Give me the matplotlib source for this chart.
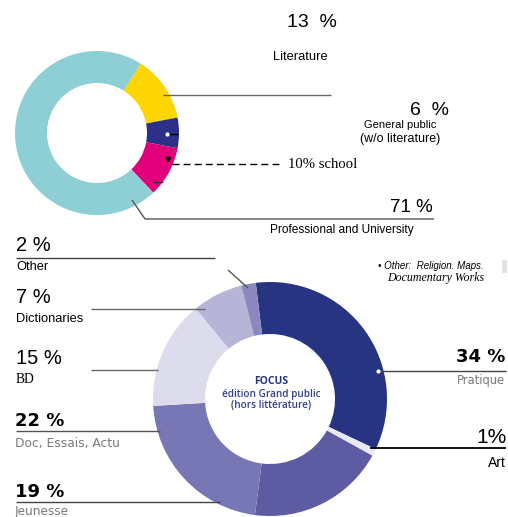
import matplotlib

matplotlib.use("Agg")
import matplotlib.pyplot as plt

W, H = 508, 517

# Market split (top ring), clockwise from the yellow slice.
top_labels = ["Literature", "General public (w/o literature)", "School",
              "Professional and University"]
top_values = [13, 6, 10, 71]
top_colors = ["#fdd500", "#2c3086", "#e2007a", "#8ecfd6"]

# General public publishing without literature (bottom ring), clockwise from top.
focus_labels = ["Pratique", "Art", "Jeunesse", "Doc, Essais, Actu", "BD",
                "Dictionaries", "Other"]
focus_values = [34, 1, 19, 22, 15, 7, 2]
focus_colors = ["#273482", "#e9e8f3", "#5d5ca3", "#7877b5", "#dddced",
                "#b6b5d7", "#8a88be"]

SANS = "Liberation Sans"
SERIF = "Liberation Serif"
ROUND = "DejaVu Sans"
GREY = "#7a7a7a"
NAVY = "#273482"


def Y(py):
    """Flip a top-down pixel row into data coordinates."""
    return H - py


fig = plt.figure(figsize=(W / 100, H / 100), dpi=100)
ax = fig.add_axes([0, 0, 1, 1])

# --- top ring ---
ax.pie(top_values, colors=top_colors, radius=82, center=(97, Y(133)),
       startangle=57.7, counterclock=False, frame=True,
       wedgeprops=dict(width=32, linewidth=0))

# --- bottom ring ---
ax.pie(focus_values, colors=focus_colors, radius=117, center=(270, Y(399)),
       startangle=97, counterclock=False, frame=True,
       wedgeprops=dict(width=52, linewidth=0))

ax.set_xlim(0, W)
ax.set_ylim(0, H)
ax.set_aspect("auto")
ax.axis("off")


def line(xs, ys, color="#555555", lw=1.0, **kw):
    ax.plot(xs, [Y(v) for v in ys], color=color, lw=lw,
            solid_capstyle="butt", **kw)


def txt(x, y, s, size, ha="left", family=SANS, **kw):
    ax.text(x, Y(y), s, fontsize=size, ha=ha, va="baseline",
            family=family, **kw)


# top ring annotations
txt(312, 27, f"{top_values[0]}  %", 14, ha="center")
txt(300, 60, "Literature", 9.3, ha="center")
line([163, 331], [95, 95], color="#666666")

txt(449, 115, f"{top_values[1]}  %", 14, ha="right")
txt(400, 128, "General public", 8, ha="center")
txt(400, 142, "(w/o literature)", 9, ha="center")
line([167, 178], [134, 134], color="black")
ax.plot(167, Y(134), "o", color="white", ms=2)

ax.plot(168, Y(159), "v", color="black", ms=3)
line([172, 283], [164, 164], color="black", ls=(0, (5, 3)))
line([153, 163], [182, 182], color="#333333")
txt(288, 168, f"{top_values[2]}% school", 10.6, family=SERIF)

line([132, 145, 434], [200, 219, 219], color="#555555")
txt(433, 212, f"{top_values[3]} %", 13.5, ha="right")
txt(342, 233, "Professional and University", 8.6, ha="center")

# bottom ring annotations, left side
txt(16, 251, f"{focus_values[6]} %", 14.5)
line([16, 215], [258, 258], color="#444444")
txt(16, 270, "Other", 9.3)
line([228, 248], [270, 288], color="#555555")

txt(16, 303, f"{focus_values[5]} %", 14.5)
line([91, 205], [309, 309], color="#666666")
txt(16, 322, "Dictionaries", 9.3)

txt(16, 364, f"{focus_values[4]} %", 14.5)
line([91, 158], [370, 370], color="#666666")
txt(16, 383, "BD", 9.8, family=SERIF)

txt(15, 426, f"{focus_values[3]} %", 13, family=ROUND, weight="bold")
line([16, 160], [431, 431], color="#555555")
txt(15, 447, focus_labels[3], 8.8, family=ROUND, color=GREY)

txt(15, 497, f"{focus_values[2]} %", 13, family=ROUND, weight="bold")
line([16, 220], [502, 502], color="#444444")
txt(15, 515, focus_labels[2], 8.7, family=ROUND, color=GREY)

# bottom ring annotations, right side
txt(505, 362, f"{focus_values[0]} %", 13, ha="right", family=ROUND,
    weight="bold")
line([378, 506], [371, 371], color="#444444")
ax.plot(378, Y(371), "o", color="white", ms=2)
txt(505, 384, focus_labels[0], 8.3, ha="right", family=ROUND, color=GREY)

txt(507, 443, f"{focus_values[1]}%", 15, ha="right")
line([370, 506], [448, 448], color="black", lw=1.3)
txt(506, 467, focus_labels[1], 10, ha="right")

# footnote
txt(378, 269, "\u2022 Other:  Religion. Maps.", 7, style="italic")
txt(387, 281, "Documentary Works", 8.6, family=SERIF, style="italic")
ax.fill_between([502, 507], Y(260), Y(273), color="#e2e2e2", lw=0)

# centre caption
txt(271, 384, "FOCUS", 7.5, ha="center", family="Open Sans", weight="bold",
    color=NAVY)
txt(271, 397, "édition Grand public", 7.2, ha="center", family="Open Sans",
    weight="semibold", color="#34408a")
txt(271, 408, "(hors littérature)", 7.2, ha="center", family="Open Sans",
    weight="semibold", color="#34408a")

fig.savefig("out.png", dpi=100)
